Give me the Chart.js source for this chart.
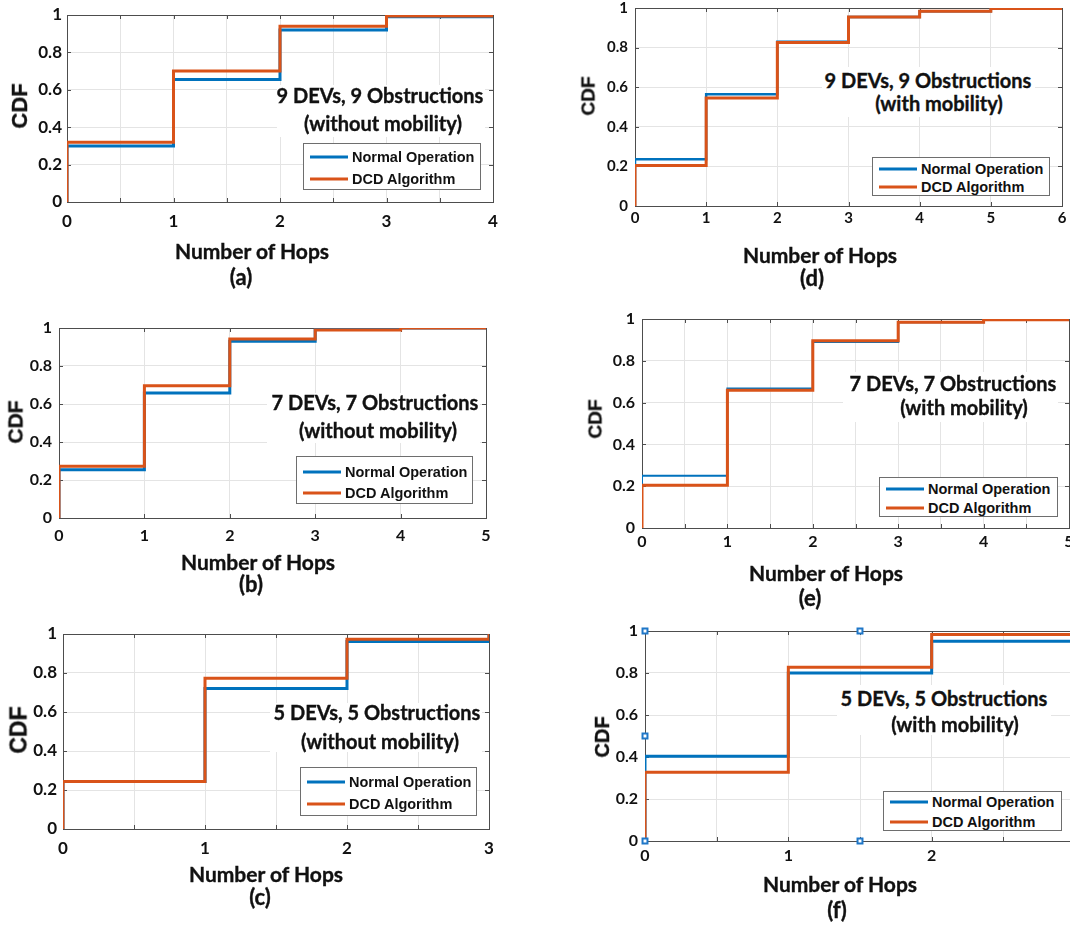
<!DOCTYPE html>
<html>
<head>
<meta charset="utf-8">
<script src="https://cdn.jsdelivr.net/npm/chart.js@4.4.1/dist/chart.umd.min.js"></script>
<style>
  html, body { margin: 0; padding: 0; background: #fff; overflow: hidden; }
  #page { position: relative; width: 1070px; height: 927px; overflow: hidden; background: #fff; }
  #page canvas { position: absolute; }
  .lbl { position: absolute; transform: translate(-50%, -50%); white-space: nowrap;
         font-family: Lato, "Open Sans", sans-serif; font-weight: bold; color: #111; line-height: 1;
         -webkit-text-stroke: 0.35px #111; }
  .cdf { font-family: "Liberation Sans", Arial, sans-serif; transform: translate(-50%, -50%) rotate(-90deg); }
  .note-bg { position: absolute; background: #fff; }
  .legend { position: absolute; background: #fff; border: 1.5px solid #6e6e6e; box-sizing: border-box; }
  .legend .row { position: absolute; left: 0; right: 0; height: 0; }
  .legend .swatch { position: absolute; height: 3px; transform: translateY(-50%); }
  .legend .txt { position: absolute; transform: translateY(-50%); white-space: nowrap;
                 font: bold 14.5px "Liberation Sans", Arial, sans-serif; color: #111; line-height: 1; }
</style>
</head>
<body>
<div id="page"></div>
<script>
// ---- data ----
// (a) 9 DEVs, 9 obstructions, no mobility
const hopsA   = [0, 0, 1, 2, 3, 4];
const normalA = [0, 0.30, 0.655, 0.92, 0.99, 1.0];
const dcdA    = [0, 0.32, 0.70, 0.94, 0.995, 1.0];
// (d) 9 DEVs, 9 obstructions, mobility
const hopsD   = [0, 0, 1, 2, 3, 4, 5, 6];
const normalD = [0, 0.236, 0.565, 0.83, 0.954, 0.983, 0.997, 1.0];
const dcdD    = [0, 0.204, 0.545, 0.826, 0.954, 0.983, 0.997, 1.0];
// (b) 7 DEVs, 7 obstructions, no mobility
const hopsB   = [0, 0, 1, 2, 3, 4, 5];
const normalB = [0, 0.254, 0.658, 0.93, 0.998, 1.0, 1.0];
const dcdB    = [0, 0.272, 0.696, 0.942, 0.99, 1.0, 1.0];
// (e) 7 DEVs, 7 obstructions, mobility
const hopsE   = [0, 0, 1, 2, 3, 4, 5];
const normalE = [0, 0.25, 0.667, 0.89, 0.984, 0.997, 1.0];
const dcdE    = [0, 0.204, 0.659, 0.896, 0.984, 0.997, 1.0];
// (c) 5 DEVs, 5 obstructions, no mobility
const hopsC   = [0, 0, 1, 2, 3];
const normalC = [0, 0.243, 0.72, 0.961, 1.0];
const dcdC    = [0, 0.243, 0.773, 0.973, 1.0];
// (f) 5 DEVs, 5 obstructions, mobility
const hopsF   = [0, 0, 1, 2, 3];
const normalF = [0, 0.403, 0.80, 0.951, 1.0];
const dcdF    = [0, 0.327, 0.827, 0.983, 1.0];
// selection handles left on axes (f)
const handleX = [0, 0, 0, 1.5, 1.5];
const handleY = [0, 0.5, 1, 0, 1];

const seriesNames = ['Normal Operation', 'DCD Algorithm'];
const noteLine1 = ['9 DEVs, 9 Obstructions', '9 DEVs, 9 Obstructions', '7 DEVs, 7 Obstructions',
                   '7 DEVs, 7 Obstructions', '5 DEVs, 5 Obstructions', '5 DEVs, 5 Obstructions'];
const noteLine2 = ['(without mobility)', '(with mobility)', '(without mobility)',
                   '(with mobility)', '(without mobility)', '(with mobility)'];
const letters = ['(a)', '(d)', '(b)', '(e)', '(c)', '(f)'];
const yLabel = 'CDF';
const xLabel = 'Number of Hops';

const BLUE = '#0072BD', ORANGE = '#D95319', GRID = '#e4e4e4', AXIS = '#4d4d4d';
const PADL = 60, PADT = 20, PADR = 30, PADB = 40;

// layout of each panel (pixel boxes)
const panels = [
  { hops: hopsA, normal: normalA, dcd: dcdA, xmax: 4, xstep: 0.5, L: 67, R: 493, T: 15, B: 202, fs: 17, xpad: 9, ypad: 5,
    cdf: [20, 106, 22], xl: [252, 250], let: [241, 277], n1: [380, 95], n2: [383, 123], bg: [277, 85, 485, 137],
    leg: [303, 143, 481, 190, 14, 36], bw: 3, ow: 3 },
  { hops: hopsD, normal: normalD, dcd: dcdD, xmax: 6, xstep: 1, L: 635, R: 1062, T: 8, B: 206, fs: 15, xpad: 3, ypad: 7,
    cdf: [588, 96, 19], xl: [820, 254], let: [812, 278], n1: [928, 80], n2: [939, 103], bg: [822, 67, 1035, 117],
    leg: [872, 157, 1050, 196, 12, 30], bw: 2.5, ow: 3 },
  { hops: hopsB, normal: normalB, dcd: dcdB, xmax: 5, xstep: 1, L: 59, R: 486, T: 328, B: 518, fs: 16, xpad: 8, ypad: 7,
    cdf: [15, 422, 21], xl: [258, 561], let: [251, 584], n1: [375, 402], n2: [378, 430], bg: [267, 393, 480, 443],
    leg: [296, 456, 473, 504, 16, 37], bw: 3, ow: 3 },
  { hops: hopsE, normal: normalE, dcd: dcdE, xmax: 5, xstep: 0.5, L: 642, R: 1069, T: 319, B: 528, fs: 16, xpad: 4, ypad: 7,
    cdf: [595, 419, 19], xl: [826, 572], let: [810, 598], n1: [953, 383], n2: [964, 407], bg: [843, 372, 1058, 422],
    leg: [879, 477, 1058, 517, 12, 31], bw: 2, ow: 3 },
  { hops: hopsC, normal: normalC, dcd: dcdC, xmax: 3, xstep: 0.5, L: 63, R: 489, T: 634, B: 829, fs: 17, xpad: 9, ypad: 6,
    cdf: [19, 730, 23], xl: [266, 873], let: [260, 897], n1: [377, 712], n2: [380, 741], bg: [270, 703, 482, 752],
    leg: [300, 767, 477, 816, 15, 37], bw: 3, ow: 3 },
  { hops: hopsF, normal: normalF, dcd: dcdF, xmax: 3, xstep: 0.5, L: 645, R: 1075, T: 631, B: 841, fs: 16, xpad: 5, ypad: 7,
    cdf: [602, 737, 20], xl: [840, 883], let: [837, 910], n1: [944, 698], n2: [955, 724], bg: [837, 685, 1051, 735],
    leg: [883, 791, 1062, 831, 11, 31], bw: 3, ow: 3, handles: true }
];

const page = document.getElementById('page');

// box on all four sides with inward tick marks, drawn under the data like MATLAB
const boxPlugin = {
  id: 'box',
  beforeDatasetsDraw(chart) {
    const { ctx, chartArea: a, scales: { x, y } } = chart;
    ctx.save();
    ctx.strokeStyle = AXIS;
    ctx.lineWidth = 1;
    ctx.beginPath();
    x.ticks.forEach(t => {
      const px = Math.round(x.getPixelForValue(t.value)) + 0.5;
      ctx.moveTo(px, a.bottom); ctx.lineTo(px, a.bottom - 4);
      ctx.moveTo(px, a.top); ctx.lineTo(px, a.top + 4);
    });
    y.ticks.forEach(t => {
      const py = Math.round(y.getPixelForValue(t.value)) + 0.5;
      ctx.moveTo(a.left, py); ctx.lineTo(a.left + 4, py);
      ctx.moveTo(a.right, py); ctx.lineTo(a.right - 4, py);
    });
    ctx.stroke();
    ctx.strokeRect(Math.round(a.left) + 0.5, Math.round(a.top) + 0.5,
                   Math.round(a.right - a.left), Math.round(a.bottom - a.top));
    ctx.restore();
  }
};

function addText(x, y, txt, size, extra) {
  const d = document.createElement('div');
  d.className = 'lbl' + (extra ? ' ' + extra : '');
  d.style.left = x + 'px';
  d.style.top = y + 'px';
  d.style.fontSize = size + 'px';
  d.textContent = txt;
  page.appendChild(d);
}

function pts(xs, ys) {
  return xs.map((v, i) => ({ x: v, y: ys[i] }));
}

panels.forEach((p, k) => {
  const cv = document.createElement('canvas');
  const w = (p.R - p.L) + PADL + PADR, h = (p.B - p.T) + PADT + PADB;
  cv.width = w; cv.height = h;
  cv.style.width = w + 'px'; cv.style.height = h + 'px';
  cv.style.left = (p.L - PADL) + 'px'; cv.style.top = (p.T - PADT) + 'px';
  page.appendChild(cv);

  const tickFont = { family: 'Lato', weight: 'bold', size: p.fs };
  const datasets = [
    { label: seriesNames[0], data: pts(p.hops, p.normal), borderColor: BLUE, borderWidth: p.bw,
      stepped: 'before', pointRadius: 0, fill: false, order: 1 },
    { label: seriesNames[1], data: pts(p.hops, p.dcd), borderColor: ORANGE, borderWidth: p.ow,
      stepped: 'before', pointRadius: 0, fill: false, order: 0 }
  ];
  if (p.handles) {
    datasets.push({ label: 'handles', data: pts(handleX, handleY), showLine: false, clip: false,
      pointStyle: 'rect', pointRadius: 3.5, pointBorderWidth: 2,
      pointBorderColor: '#1f77c8', pointBackgroundColor: '#fff', order: -1 });
  }

  new Chart(cv, {
    type: 'line',
    data: { datasets },
    options: {
      responsive: false,
      animation: false,
      devicePixelRatio: 1,
      layout: { padding: { left: 0, top: PADT, right: PADR, bottom: 0 } },
      plugins: { legend: { display: false }, tooltip: { enabled: false } },
      scales: {
        x: {
          type: 'linear', min: 0, max: p.xmax,
          afterFit: s => { s.height = PADB; },
          ticks: { stepSize: p.xstep, autoSkip: false, maxRotation: 0, padding: p.xpad, color: '#111',
                   font: tickFont, callback: v => Number.isInteger(v) ? String(v) : '' },
          grid: { color: GRID, drawTicks: false },
          border: { color: AXIS }
        },
        y: {
          min: 0, max: 1,
          afterFit: s => { s.width = PADL; },
          ticks: { stepSize: 0.2, padding: p.ypad, color: '#111', font: tickFont,
                   callback: v => String(Math.round(v * 10) / 10) },
          grid: { color: GRID, drawTicks: false },
          border: { color: AXIS }
        }
      }
    },
    plugins: [boxPlugin]
  });

  // white patch behind the caption, as in the figure
  const bg = document.createElement('div');
  bg.className = 'note-bg';
  bg.style.left = p.bg[0] + 'px'; bg.style.top = p.bg[1] + 'px';
  bg.style.width = (p.bg[2] - p.bg[0]) + 'px'; bg.style.height = (p.bg[3] - p.bg[1]) + 'px';
  page.appendChild(bg);
  addText(p.n1[0], p.n1[1], noteLine1[k], 20);
  addText(p.n2[0], p.n2[1], noteLine2[k], 20);

  // legend box
  const lg = document.createElement('div');
  lg.className = 'legend';
  lg.style.left = p.leg[0] + 'px'; lg.style.top = p.leg[1] + 'px';
  lg.style.width = (p.leg[2] - p.leg[0]) + 'px'; lg.style.height = (p.leg[3] - p.leg[1]) + 'px';
  [[BLUE, p.leg[4]], [ORANGE, p.leg[5]]].forEach(([col, ry], i) => {
    const row = document.createElement('div');
    row.className = 'row';
    row.style.top = (ry - 1.5) + 'px';
    const sw = document.createElement('div');
    sw.className = 'swatch';
    sw.style.left = '6px'; sw.style.width = '38px'; sw.style.background = col;
    const tx = document.createElement('div');
    tx.className = 'txt';
    tx.style.left = '48px';
    tx.textContent = seriesNames[i];
    row.appendChild(sw); row.appendChild(tx);
    lg.appendChild(row);
  });
  page.appendChild(lg);

  addText(p.cdf[0], p.cdf[1], yLabel, p.cdf[2], 'cdf');
  addText(p.xl[0], p.xl[1], xLabel, 21);
  addText(p.let[0], p.let[1], letters[k], 22);
});
</script>
</body>
</html>
